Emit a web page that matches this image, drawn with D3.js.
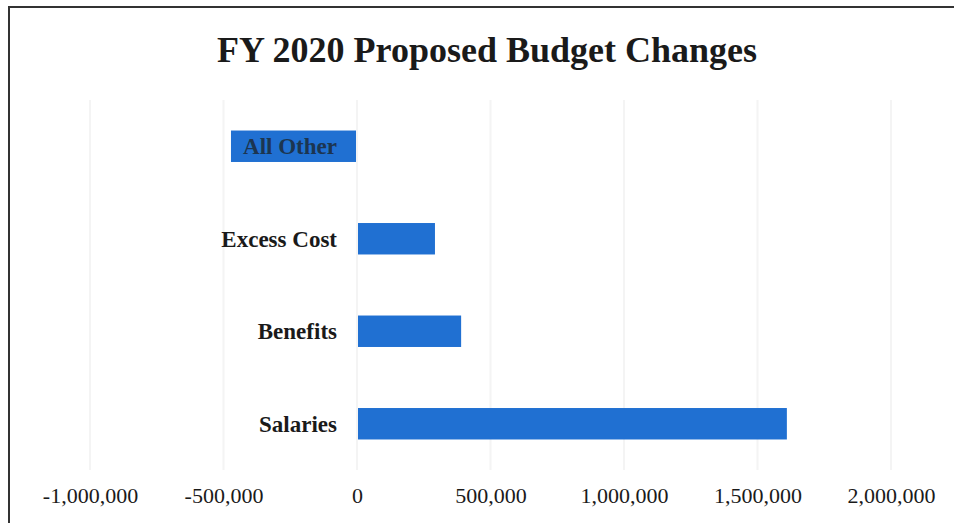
<!DOCTYPE html>
<html>
<head>
<meta charset="utf-8">
<script src="https://cdn.jsdelivr.net/npm/d3@7"></script>
<style>
  body { margin: 0; background: #fff; }
  svg { display: block; }
</style>
</head>
<body>
<div id="chart"></div>
<script>
// values
var categories = ["All Other", "Excess Cost", "Benefits", "Salaries"];
var changes = [-472000, 292000, 390000, 1610000];
var tickValues = [-1000000, -500000, 0, 500000, 1000000, 1500000, 2000000];

var width = 954, height = 523;
var serif = "'Liberation Serif', 'Times New Roman', serif";

var svg = d3.select("#chart").append("svg")
    .attr("width", width)
    .attr("height", height);

// chart frame (runs off the right and bottom edge like the scan)
svg.append("rect")
    .attr("x", 9).attr("y", 7)
    .attr("width", width + 20).attr("height", height + 20)
    .attr("fill", "#fff")
    .attr("stroke", "#333")
    .attr("stroke-width", 2);

svg.append("text")
    .attr("x", 487).attr("y", 62)
    .attr("text-anchor", "middle")
    .attr("font-family", serif)
    .attr("font-weight", "bold")
    .attr("font-size", 36)
    .attr("fill", "#1a1a1a")
    .text("FY 2020 Proposed Budget Changes");

var x = d3.scaleLinear()
    .domain([-1000000, 2000000])
    .range([90, 891]);

var y = d3.scaleBand()
    .domain(categories)
    .range([100, 470])
    .paddingInner(0.66)
    .paddingOuter(0.33);

// faint vertical gridlines
svg.append("g")
    .selectAll("line")
    .data(tickValues)
    .enter().append("line")
    .attr("x1", function (d) { return x(d); })
    .attr("x2", function (d) { return x(d); })
    .attr("y1", 100)
    .attr("y2", 470)
    .attr("stroke", "#f4f4f4")
    .attr("stroke-width", 2);

var data = categories.map(function (c, i) { return { name: c, value: changes[i] }; });

svg.append("g")
    .selectAll("rect")
    .data(data)
    .enter().append("rect")
    .attr("x", function (d) { return d.value < 0 ? x(d.value) : x(0) + 1; })
    .attr("y", function (d) { return y(d.name); })
    .attr("width", function (d) { return Math.abs(x(d.value) - x(0)) - 1; })
    .attr("height", y.bandwidth())
    .attr("fill", "#2070d2");

// category labels sit left of the zero line
svg.append("g")
    .selectAll("text")
    .data(data)
    .enter().append("text")
    .attr("x", x(0) - 20)
    .attr("y", function (d) { return y(d.name) + y.bandwidth() / 2; })
    .attr("dy", "0.35em")
    .attr("text-anchor", "end")
    .attr("font-family", serif)
    .attr("font-weight", "bold")
    .attr("font-size", 23)
    .attr("fill", function (d) { return d.value < 0 ? "#1c3550" : "#1a1a1a"; })
    .text(function (d) { return d.name; });

var fmt = d3.format(",");
var xAxis = d3.axisBottom(x)
    .tickValues(tickValues)
    .tickSize(0)
    .tickPadding(0)
    .tickFormat(function (d) { return fmt(d).replace("\u2212", "-"); });

var gx = svg.append("g")
    .attr("transform", "translate(0,487)")
    .call(xAxis);
gx.select(".domain").remove();
gx.selectAll("text")
    .attr("font-family", serif)
    .attr("font-size", 22)
    .attr("fill", "#1a1a1a")
    .attr("dy", "0.71em");
</script>
</body>
</html>
